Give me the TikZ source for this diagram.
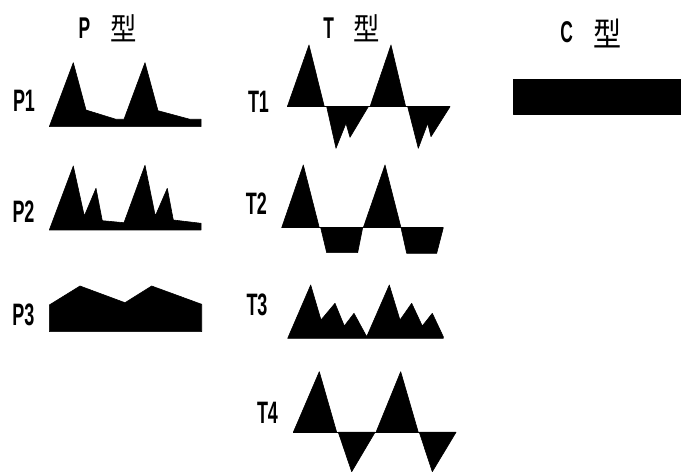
\documentclass[tikz,border=0pt]{standalone}
\usepackage{fontspec}
\newfontfamily\narrowlatin[FakeStretch=0.58]{Liberation Sans}
\newfontfamily\cjk[FakeStretch=0.85]{Noto Sans CJK JP}
\begin{document}
\begin{tikzpicture}[x=1pt,y=-1pt,
  lbl/.style={inner sep=0pt,font=\narrowlatin\bfseries\fontsize{31}{33}\selectfont},
  ttlL/.style={inner sep=0pt,font=\narrowlatin\bfseries\fontsize{30}{32}\selectfont},
  ttlK/.style={inner sep=0pt,font=\cjk\fontsize{31}{33}\selectfont},
  wave/.style={fill=black,draw=black,line width=0.6pt,line join=round},
  axis/.style={draw=black,line width=1.4pt}]
\useasboundingbox (0,0) rectangle (681,473);

% column titles
\node[ttlL] (tP) at (84.5,28) {P};
\node[ttlK] (tPk) at (123.5,28.5) {型};
\node[ttlL] (tT) at (328.7,28) {T};
\node[ttlK] (tTk) at (367,28.5) {型};
\node[ttlL] (tC) at (566.7,32) {C};
\node[ttlK, font=\cjk\fontsize{33}{35}\selectfont] (tCk) at (608,33.5) {型};

% row labels
\node[lbl] (lP1) at (24,101) {P1};
\node[lbl] (lP2) at (23.5,211.7) {P2};
\node[lbl] (lP3) at (23.3,315) {P3};
\node[lbl] (lT1) at (258.5,101.7) {T1};
\node[lbl] (lT2) at (256.3,203.3) {T2};
\node[lbl] (lT3) at (257,305) {T3};
\node[lbl] (lT4) at (267.5,413.3) {T4};

% P1: two sharp peaks with slow decay
\path[wave] (49.3,126.7) -- (73.3,62.7) -- (86,110) -- (116,119.3) -- (124,119.3)
  -- (145,62.7) -- (158,110.7) -- (190,119.3) -- (201,119.3) -- (201,126.7) -- cycle;

% P2: main peak followed by a smaller one
\path[wave] (49.3,230) -- (73.3,166) -- (84.3,216) -- (96,188.3) -- (102.3,220.7)
  -- (124,222.7) -- (145,165.3) -- (155.3,216) -- (167.3,188.3) -- (173.3,220)
  -- (201,223.3) -- (201,230) -- cycle;

% P3: broad plateau
\path[wave] (49.3,331.7) -- (49.3,305) -- (80,286) -- (125,302.7) -- (151.7,286)
  -- (201.7,304.3) -- (201.7,331.7) -- cycle;

% T1
\draw[axis] (287.3,106.7) -- (450,106.7);
\path[wave] (287.3,106.7) -- (309,45) -- (324.3,106.7) -- cycle;
\path[wave] (326.7,106.7) -- (336,148.3) -- (346,123.3) -- (350,137.3) -- (368.3,106.7) -- cycle;
\path[wave] (370,106.7) -- (391,45) -- (405.7,106.7) -- cycle;
\path[wave] (407.7,106.7) -- (418.3,148.3) -- (427.7,123.3) -- (431,136.7) -- (450,106.7) -- cycle;

% T2
\draw[axis] (281.7,227.7) -- (443.3,227.7);
\path[wave] (281.7,227.7) -- (303.3,165) -- (319.3,227.7) -- cycle;
\path[wave] (320.7,227.7) -- (326.7,252.7) -- (357.7,252.7) -- (362.7,227.7) -- cycle;
\path[wave] (363.3,227.7) -- (385,165) -- (401,227.7) -- cycle;
\path[wave] (401,227.7) -- (406.7,253.3) -- (436.7,253.3) -- (443.3,227.7) -- cycle;

% T3
\path[wave] (287.7,338.3) -- (310.7,285) -- (321,320) -- (335,303.3) -- (344.3,326)
  -- (354,313.3) -- (366.7,336.7) -- (389.3,285) -- (400,320) -- (411.7,303.3)
  -- (422.3,326) -- (432.3,313.3) -- (443.3,336.7) -- (443.3,338.3) -- cycle;

% T4
\draw[axis] (293.3,432.3) -- (456,432.3);
\path[wave] (293.3,432.3) -- (319.3,371.7) -- (336.7,432.3) -- cycle;
\path[wave] (338.3,432.3) -- (351.7,471.7) -- (375,432.3) -- cycle;
\path[wave] (376,432.3) -- (400.7,371.7) -- (418.3,432.3) -- cycle;
\path[wave] (419.3,432.3) -- (432.3,471.7) -- (456,432.3) -- cycle;

% C: constant level
\path[wave] (513.3,79.3) rectangle (681,114);
\end{tikzpicture}
\end{document}
